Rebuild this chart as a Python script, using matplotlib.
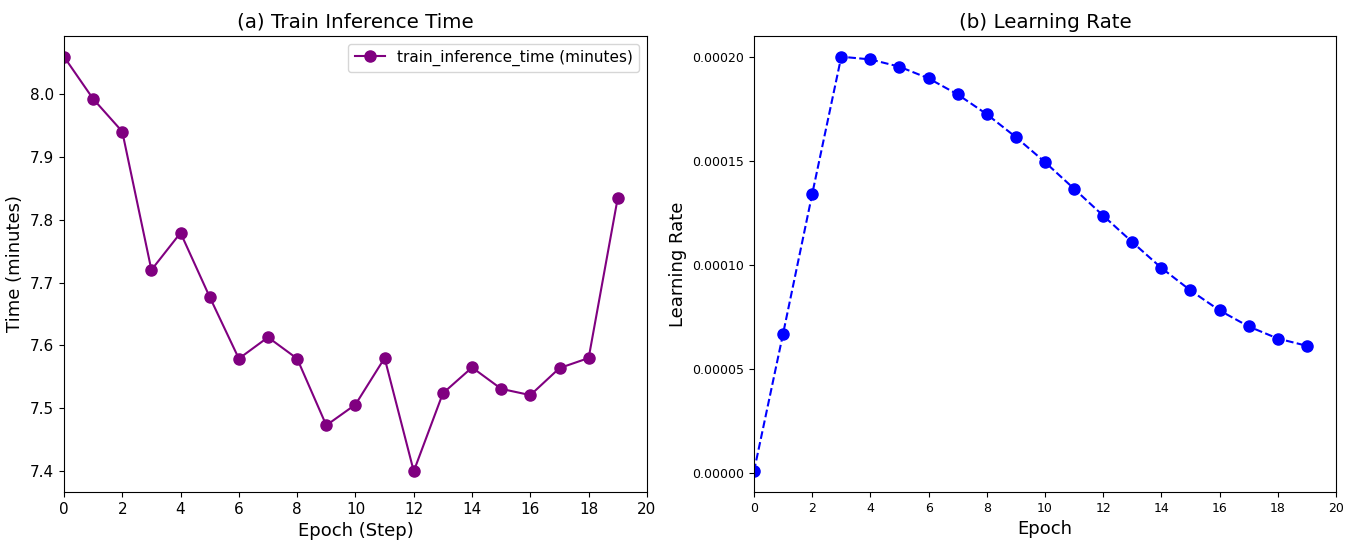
import matplotlib

matplotlib.use("Agg")
import matplotlib.pyplot as plt
from matplotlib.ticker import FormatStrFormatter, MultipleLocator

epochs = list(range(20))
train_time = [8.059, 7.992, 7.940, 7.720, 7.779, 7.677, 7.579, 7.613, 7.579, 7.473,
              7.506, 7.580, 7.400, 7.524, 7.565, 7.531, 7.521, 7.564, 7.580, 7.835]
learning_rate = [1e-6, 6.7e-5, 1.34e-4, 2.0e-4, 1.987e-4, 1.952e-4, 1.896e-4, 1.819e-4,
                 1.724e-4, 1.614e-4, 1.494e-4, 1.366e-4, 1.237e-4, 1.110e-4, 0.986e-4,
                 0.878e-4, 0.782e-4, 0.705e-4, 0.647e-4, 0.612e-4]

figure = plt.figure(figsize=(13.58, 5.42), dpi=100)
axis_a = figure.add_axes([0.0471, 0.0923, 0.4293, 0.8413])
axis_b = figure.add_axes([0.5552, 0.0923, 0.4286, 0.8413])

axis_a.plot(epochs, train_time, color="purple", marker="o", markersize=8,
            linewidth=1.5, label="train_inference_time (minutes)")
axis_a.set_xlim(0, 20)
axis_a.set_xticks(range(0, 21, 2))
axis_a.tick_params(labelsize=11)
axis_a.set_xlabel("Epoch (Step)", fontsize=13)
axis_a.set_ylabel("Time (minutes)", fontsize=13)
axis_a.set_title("(a) Train Inference Time", fontsize=14.3)
axis_a.legend(loc="upper right", fontsize=11)

axis_b.plot(epochs, learning_rate, color="blue", marker="o", markersize=8,
            linestyle="--", linewidth=1.5)
axis_b.set_xlim(0, 20)
axis_b.set_xticks(range(0, 21, 2))
axis_b.yaxis.set_major_locator(MultipleLocator(5e-5))
axis_b.yaxis.set_major_formatter(FormatStrFormatter("%.5f"))
axis_b.tick_params(labelsize=9)
axis_b.set_xlabel("Epoch", fontsize=13)
axis_b.set_ylabel("Learning Rate", fontsize=13)
axis_b.set_title("(b) Learning Rate", fontsize=14.3)

figure.savefig("out.png", dpi=100)
plt.close(figure)
